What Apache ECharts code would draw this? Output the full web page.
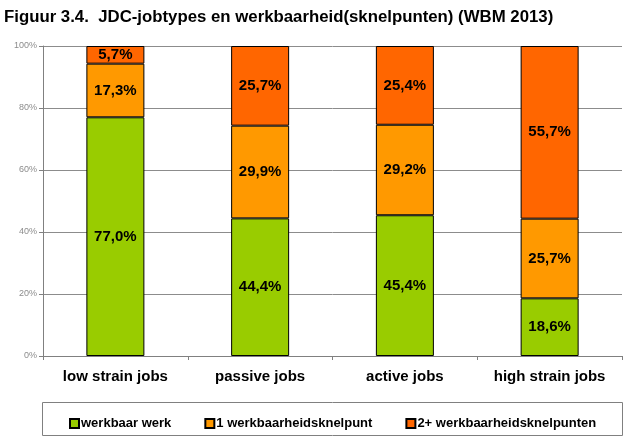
<!DOCTYPE html>
<html><head><meta charset="utf-8">
<script src="https://cdn.jsdelivr.net/npm/echarts@6/dist/echarts.min.js"></script>
<style>html,body{margin:0;padding:0;background:#fff}#c{width:627px;height:439px}</style>
</head><body><div id="c"></div>
<script>
const categories = ['low strain jobs', 'passive jobs', 'active jobs', 'high strain jobs'];
const seriesNames = ['werkbaar werk', '1 werkbaarheidsknelpunt', '2+ werkbaarheidsknelpunten'];
const werkbaar = [77.0, 44.4, 45.4, 18.6];
const eenKnelpunt = [17.3, 29.9, 29.2, 25.7];
const tweePlusKnelpunten = [5.7, 25.7, 25.4, 55.7];
const yTicks = [0, 20, 40, 60, 80, 100];
const colors = ['#99CC00', '#FF9900', '#FF6600'];
const FONT = 'Liberation Sans, Arial, sans-serif';

const chart = echarts.init(document.getElementById('c'));
const lbl = {
  show: true, position: 'inside', color: '#000', fontFamily: FONT, fontWeight: 'bold', fontSize: 15,
  formatter: p => p.value.toFixed(1).replace('.', ',') + '%'
};
const mk = (name, data, i) => ({
  name, type: 'bar', stack: 'a', data, barWidth: 58,
  itemStyle: { color: colors[i], borderColor: '#000', borderWidth: 1 },
  label: lbl
});
chart.setOption({
  animation: false,
  title: { text: 'Figuur 3.4.  JDC-jobtypes en werkbaarheid(sknelpunten) (WBM 2013)', left: -1, top: 4,
    textStyle: { fontFamily: FONT, fontWeight: 'bold', fontSize: 16.8, color: '#000' } },
  grid: { left: 43, right: 5, top: 46, bottom: 83 },
  xAxis: {
    type: 'category', data: categories,
    axisLine: { lineStyle: { color: '#808080' } },
    axisTick: { show: true, alignWithLabel: false, length: 4, lineStyle: { color: '#808080' } },
    axisLabel: { interval: 0, color: '#000', fontFamily: FONT, fontWeight: 'bold', fontSize: 15, margin: 13 }
  },
  yAxis: {
    type: 'value', min: 0, max: 100, interval: 20,
    axisLine: { show: true, lineStyle: { color: '#808080' } },
    axisTick: { show: true, length: 4, lineStyle: { color: '#808080' } },
    splitLine: { lineStyle: { color: '#8c8c8c' } },
    axisLabel: { color: '#8c8c8c', fontFamily: FONT, fontSize: 9, margin: 6,
      formatter: v => yTicks.includes(v) ? v + '%' : '' }
  },
  legend: {
    data: seriesNames, left: 64, top: 412, itemWidth: 9, itemHeight: 9, itemGap: 33, icon: 'rect',
    textStyle: { fontFamily: FONT, fontWeight: 'bold', fontSize: 13, color: '#000', padding: [0, 0, 0, -3] }
  },
  graphic: [{ type: 'rect', shape: { x: 42.5, y: 402.5, width: 580, height: 33 }, style: { fill: 'none', stroke: '#808080', lineWidth: 1 }, z: -1 }],
  series: [mk(seriesNames[0], werkbaar, 0), mk(seriesNames[1], eenKnelpunt, 1), mk(seriesNames[2], tweePlusKnelpunten, 2)]
});
</script></body></html>
